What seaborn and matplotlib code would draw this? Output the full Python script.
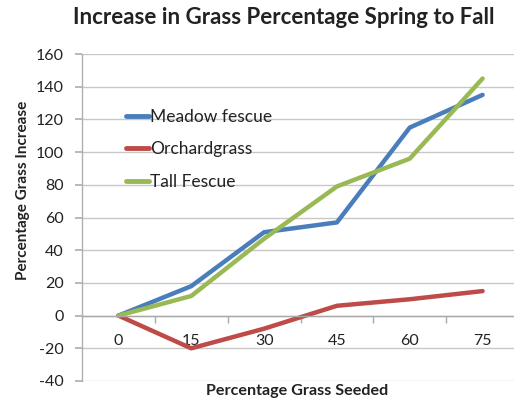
import matplotlib
matplotlib.use("Agg")
import matplotlib.pyplot as plt
import seaborn as sns
import pandas as pd
from matplotlib.ticker import MultipleLocator, FixedLocator

seeded = ["0", "15", "30", "45", "60", "75"]
meadow_fescue = [0, 18, 51, 57, 115, 135]
orchardgrass = [0, -20, -8, 6, 10, 15]
tall_fescue = [0, 12, 47, 79, 96, 145]
series_names = ["Meadow fescue", "Orchardgrass", "Tall Fescue"]
colors = ["#4A7EBB", "#BE4B48", "#98B954"]

df = pd.DataFrame({
    "seeded": seeded * 3,
    "value": meadow_fescue + orchardgrass + tall_fescue,
    "series": [series_names[0]] * 6 + [series_names[1]] * 6 + [series_names[2]] * 6,
})

sns.set_theme(style="white")
plt.rcParams["font.family"] = ["Lato", "DejaVu Sans"]
plt.rcParams["axes.unicode_minus"] = False

fig = plt.figure(figsize=(5.14, 4.00), dpi=100)
ax = fig.add_axes([82/514, 19/400, 437/514, 327/400])

sns.lineplot(data=df, x="seeded", y="value", hue="series", palette=colors,
             linewidth=3.2, ax=ax, sort=False)

ax.set_ylim(-40, 160)
ax.set_xlim(-0.5, 5.5)
ax.yaxis.set_major_locator(MultipleLocator(20))
ax.grid(axis="y", color="#c8c8c8", linewidth=1)
ax.set_axisbelow(True)

for s in ["top", "right"]:
    ax.spines[s].set_visible(False)
ax.spines["left"].set_color("#b0b0b0")
ax.spines["left"].set_linewidth(1)
ax.spines["bottom"].set_position(("data", 0))
ax.spines["bottom"].set_color("#a8a8a8")
ax.spines["bottom"].set_linewidth(1)

ax.tick_params(axis="y", which="major", length=5, color="#b0b0b0", labelsize=11.5,
               labelcolor="#222222", left=True, pad=8)
ax.tick_params(axis="x", which="major", length=0, labelsize=11.5, labelcolor="#222222", pad=13)
ax.xaxis.set_minor_locator(FixedLocator([0.5, 1.5, 2.5, 3.5, 4.5]))
ax.tick_params(axis="x", which="minor", length=5, color="#a8a8a8", bottom=True, direction="out")

ax.set_xlabel("Percentage Grass Seeded", fontsize=11.6, fontweight="bold", color="#222222")
ax.xaxis.set_label_coords((297 - 82) / 437, -3 / 327)
ax.set_ylabel("Percentage Grass Increase", fontsize=11, fontweight="bold", color="#222222")
ax.yaxis.set_label_coords(-(82 - 30) / 437, (381 - 190) / 327)

fig.suptitle("Increase in Grass Percentage Spring to Fall", x=284/514, y=1 - 7/400,
             fontsize=16, fontweight="bold", color="#222222", va="top")

leg = ax.legend(loc="upper left", bbox_to_anchor=(0.065, 0.88), frameon=False,
                handlelength=1.3, handletextpad=0.1, labelspacing=0.95, fontsize=12.5)
for line in leg.get_lines():
    line.set_linewidth(3.5)
for t in leg.get_texts():
    t.set_color("#222222")

fig.savefig("out.png", dpi=100)
